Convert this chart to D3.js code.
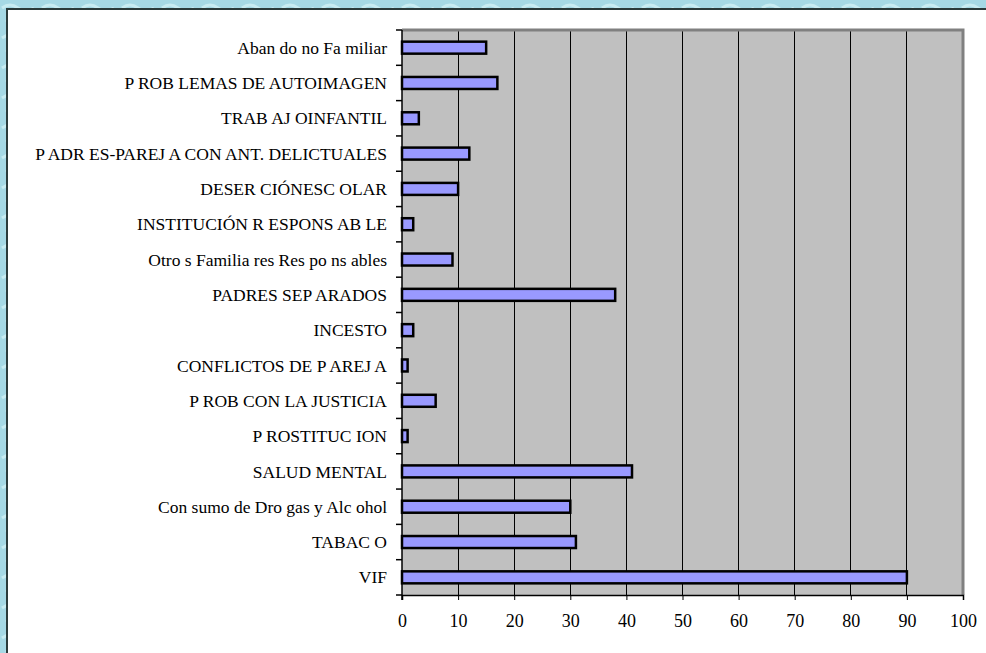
<!DOCTYPE html>
<html><head><meta charset="utf-8">
<script src="https://cdn.jsdelivr.net/npm/d3@7"></script>
<style>html,body{margin:0;padding:0;background:#a9dbe6;overflow:hidden}</style>
</head><body>
<script>
const categories = ["Aban do no Fa miliar","P ROB LEMAS DE AUTOIMAGEN","TRAB AJ OINFANTIL","P ADR ES-PAREJ A CON ANT. DELICTUALES","DESER CIÓNESC OLAR","INSTITUCIÓN R ESPONS AB LE","Otro s Familia res Res po ns ables","PADRES SEP ARADOS","INCESTO","CONFLICTOS DE P AREJ A","P ROB CON LA JUSTICIA","P ROSTITUC ION","SALUD MENTAL","Con sumo de Dro gas y Alc ohol","TABAC O","VIF"];
const values = [15,17,3,12,10,2,9,38,2,1,6,1,41,30,31,90];
const xTicks = [0,10,20,30,40,50,60,70,80,90,100];

const W=986,H=653;
const svg=d3.select("body").append("svg").attr("width",W).attr("height",H);
const defs=svg.append("defs");
const pat=defs.append("pattern").attr("id","tex").attr("width",40).attr("height",30).attr("patternUnits","userSpaceOnUse");
pat.append("rect").attr("width",40).attr("height",30).attr("fill","#a6d9e5");
pat.append("path").attr("d","M2 8 q8 -6 16 0 t16 0 M6 22 q6 -5 12 0 t14 2").attr("stroke","#c8ecf2").attr("stroke-width",3).attr("fill","none");
pat.append("path").attr("d","M10 14 q5 4 10 0 M28 26 q4 -3 9 0").attr("stroke","#7fc3d6").attr("stroke-width",1.5).attr("fill","none");
svg.append("rect").attr("width",W).attr("height",H).attr("fill","url(#tex)");
svg.append("rect").attr("x",7).attr("y",9).attr("width",W).attr("height",H).attr("fill","#fff").attr("stroke","#2b3b3b").attr("stroke-width",2);

const L=402,R=963,T=30,B=595;
const x=d3.scaleLinear().domain([0,100]).range([L,R]);
const y=d3.scaleBand().domain(categories).range([T,B]).paddingInner(0.66).paddingOuter(0.33);

svg.append("rect").attr("x",L).attr("y",T).attr("width",R-L).attr("height",B-T).attr("fill","#c0c0c0");
svg.append("g").selectAll("line").data(xTicks.slice(1,-1)).join("line")
  .attr("x1",d=>x(d)).attr("x2",d=>x(d)).attr("y1",T).attr("y2",B)
  .attr("stroke","#000").attr("stroke-width",1).attr("shape-rendering","crispEdges");
svg.append("path").attr("d",`M${L},${T} H${R} V${B}`).attr("fill","none").attr("stroke","#808080").attr("stroke-width",3);

svg.append("g").selectAll("rect").data(values).join("rect")
  .attr("x",x(0)).attr("y",(d,i)=>y(categories[i]))
  .attr("width",d=>x(d)-x(0)).attr("height",y.bandwidth())
  .attr("fill","#9999ff").attr("stroke","#000").attr("stroke-width",2.5);

const xa=svg.append("g").attr("transform",`translate(0,${B})`)
  .call(d3.axisBottom(x).tickValues(xTicks).tickSize(5).tickPadding(14).tickFormat(d3.format("d")));
xa.select(".domain").attr("stroke","#000").attr("stroke-width",1.5);
xa.selectAll(".tick line").attr("stroke","#000");
xa.selectAll("text").attr("font-family","'Liberation Serif', 'Times New Roman', serif").attr("font-size",18).attr("fill","#000");

svg.append("line").attr("x1",L).attr("x2",L).attr("y1",T).attr("y2",B+5).attr("stroke","#000").attr("stroke-width",1.5);
const bounds=d3.range(categories.length+1).map(i=>T+i*(B-T)/categories.length);
svg.append("g").selectAll("line").data(bounds).join("line")
  .attr("x1",L-6).attr("x2",L).attr("y1",d=>d).attr("y2",d=>d).attr("stroke","#000").attr("stroke-width",1.5);
svg.append("g").selectAll("text").data(categories).join("text")
  .attr("x",L-15).attr("y",d=>y(d)+y.bandwidth()/2).attr("dy","0.35em")
  .attr("text-anchor","end").attr("font-family","'Liberation Serif', 'Times New Roman', serif").attr("font-size",17.5).attr("fill","#000")
  .text(d=>d);
</script>
</body></html>
